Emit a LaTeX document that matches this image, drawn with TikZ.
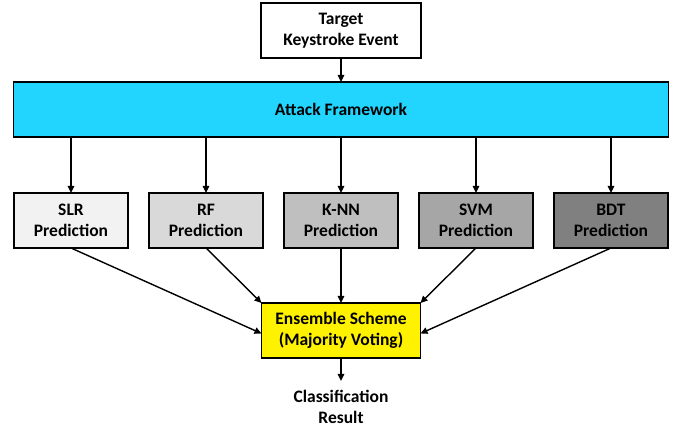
\documentclass[tikz,border=0pt]{standalone}
\usepackage{fontspec}
\setmainfont{Carlito}
\usepackage{xcolor}
\usepackage{tikz}
\usetikzlibrary{positioning,arrows.meta}

\definecolor{frameblue}{RGB}{33,213,255}
\definecolor{slrgray}{RGB}{242,242,242}
\definecolor{rfgray}{RGB}{217,217,217}
\definecolor{knngray}{RGB}{191,191,191}
\definecolor{svmgray}{RGB}{166,166,166}
\definecolor{bdtgray}{RGB}{128,128,128}

\begin{document}
\begin{tikzpicture}[
    x=1pt, y=1pt,
    font=\fontsize{17.5}{20.5}\selectfont\bfseries,
    node distance=21pt,
    box/.style={rectangle, draw, line width=1.4pt, outer sep=0pt, align=center, minimum height=55pt},
    predbox/.style={box, minimum width=114pt},
    arrow/.style={-{Triangle[length=7pt,width=6.5pt]}, line width=1.4pt}
]
\useasboundingbox (0,0) rectangle (678,-430);

% Input and framework
\node[box, minimum width=160pt] (target) at (341,-30.5) {Target\\Keystroke Event};
\node[box, fill=frameblue, minimum width=655pt, below=24pt of target] (frame) {Attack Framework};

% Classifier predictions
\node[predbox, fill=knngray, below=56pt of frame] (knn) {K-NN\\Prediction};
\node[predbox, fill=rfgray, left=of knn] (rf) {RF\\Prediction};
\node[predbox, fill=slrgray, left=of rf] (slr) {SLR\\Prediction};
\node[predbox, fill=svmgray, right=of knn] (svm) {SVM\\Prediction};
\node[predbox, fill=bdtgray, right=of svm] (bdt) {BDT\\Prediction};

% Voting and output
\node[box, fill=yellow, minimum width=159pt, below=55pt of knn] (vote) {Ensemble Scheme\\(Majority Voting)};
\node[below=23pt of vote, inner sep=9pt, align=center] (result) {Classification\\Result};

% Arrows
\draw[arrow] (target) -- (frame);
\foreach \p in {slr,rf,knn,svm,bdt}
    \draw[arrow] (frame.south -| \p) -- (\p);
\draw[arrow] (slr.south) -- ([yshift=-3pt]vote.west);
\draw[arrow] (rf.south) -- (vote.north west);
\draw[arrow] (knn) -- (vote);
\draw[arrow] (svm.south) -- (vote.north east);
\draw[arrow] (bdt.south) -- ([yshift=-3pt]vote.east);
\draw[arrow] (vote) -- (result);

\end{tikzpicture}
\end{document}
